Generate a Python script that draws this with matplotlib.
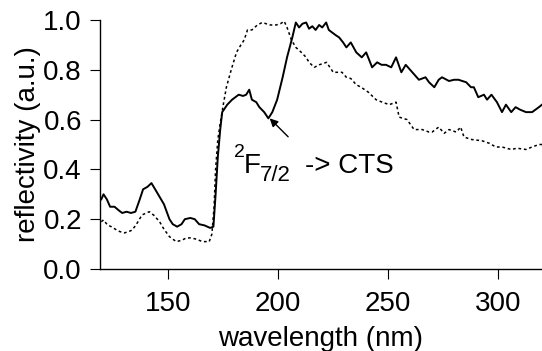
import matplotlib
matplotlib.use("Agg")
import matplotlib.pyplot as plt

plt.rcParams['font.family'] = ['Liberation Sans', 'DejaVu Sans']

# Solid curve
wl_solid = [119.5, 120.5, 122, 123.5, 125.5, 127.5, 129, 131, 133, 135, 137, 138.5, 140.5,
            142.3, 144, 146, 148, 150.5, 152, 154, 156, 157.5, 160, 162, 164, 166.5, 169,
            170.5, 171.5, 172.5, 173.6, 174.5, 176.8, 179, 182, 184, 185.4, 186.8, 188, 190,
            191.4, 193.6, 195.5, 197.3, 199.5, 202, 204, 206.4, 208, 209.5, 211, 212.7, 214,
            215.5, 217, 218.6, 220, 221.8, 223, 224.5, 226, 227.7, 229.5, 231, 233, 235.5,
            238, 240, 242.7, 245, 247, 249, 251.4, 253.6, 256, 258, 261, 264, 267, 268.6,
            271, 273, 274.5, 277.7, 280, 282, 285.5, 287.7, 289, 291, 293.6, 295, 297, 299.5,
            301.8, 303.6, 306, 308, 310, 312.7, 315.5, 318.6, 320]
refl_solid = [0.28, 0.30, 0.28, 0.25, 0.25, 0.235, 0.225, 0.23, 0.225, 0.23, 0.28, 0.32, 0.33,
              0.345, 0.32, 0.29, 0.26, 0.20, 0.18, 0.17, 0.18, 0.20, 0.205, 0.20, 0.18, 0.175,
              0.165, 0.17, 0.30, 0.45, 0.56, 0.63, 0.66, 0.68, 0.70, 0.695, 0.70, 0.72, 0.68,
              0.67, 0.65, 0.63, 0.605, 0.63, 0.68, 0.77, 0.85, 0.93, 0.99, 0.97, 0.985, 0.99,
              0.965, 0.975, 0.96, 0.98, 0.97, 0.99, 0.96, 0.95, 0.94, 0.93, 0.91, 0.89, 0.91,
              0.87, 0.85, 0.87, 0.81, 0.83, 0.82, 0.82, 0.81, 0.85, 0.79, 0.82, 0.79, 0.76,
              0.77, 0.75, 0.73, 0.76, 0.77, 0.755, 0.76, 0.76, 0.75, 0.73, 0.73, 0.69, 0.70,
              0.68, 0.70, 0.67, 0.63, 0.66, 0.63, 0.65, 0.64, 0.63, 0.63, 0.65, 0.66]

# Dotted curve
wl_dotted = [119.5, 120.5, 122.3, 124, 126.4, 128, 130, 132, 133.6, 135.5, 138, 140, 141.4,
             143.5, 146, 148, 150.5, 152, 153.6, 156, 158, 160, 162.7, 165.5, 168.6, 169.8,
             170.8, 171.5, 172.5, 173.5, 175, 176.4, 178.6, 181, 183, 184.5, 186, 188, 190.5,
             192.7, 194.5, 196, 199, 201, 202.7, 204, 206, 208, 210.5, 212.7, 214, 216.4,
             218.6, 222, 225, 229, 231, 233, 235.5, 237.7, 241, 244.5, 247.3, 250.5, 253.6,
             255, 258.6, 261.8, 265.5, 268.6, 270, 273, 275.5, 277.7, 281, 283, 284.5, 288,
             292.7, 296, 299, 301.8, 306, 308.6, 312.7, 315.5, 318.6, 320]
refl_dotted = [0.19, 0.197, 0.177, 0.17, 0.157, 0.15, 0.145, 0.15, 0.157, 0.18, 0.217, 0.225,
               0.23, 0.215, 0.19, 0.16, 0.13, 0.12, 0.11, 0.115, 0.124, 0.125, 0.12, 0.11, 0.11,
               0.14, 0.25, 0.40, 0.52, 0.58, 0.66, 0.73, 0.80, 0.87, 0.90, 0.92, 0.96, 0.96,
               0.98, 0.99, 0.985, 0.98, 0.98, 0.985, 0.995, 0.97, 0.92, 0.89, 0.87, 0.85, 0.83,
               0.81, 0.82, 0.83, 0.79, 0.79, 0.77, 0.765, 0.74, 0.73, 0.71, 0.68, 0.67, 0.66,
               0.67, 0.61, 0.60, 0.56, 0.56, 0.55, 0.55, 0.57, 0.545, 0.56, 0.55, 0.57, 0.53,
               0.52, 0.515, 0.505, 0.49, 0.49, 0.48, 0.485, 0.48, 0.49, 0.50, 0.50]

x_ticks = [150, 200, 250, 300]
y_ticks = [0.0, 0.2, 0.4, 0.6, 0.8, 1.0]
y_ticklabels = ['0.0', '0.2', '0.4', '0.6', '0.8', '1.0']

fig = plt.figure(figsize=(5.42, 3.51), dpi=100)
ax = fig.add_axes([100/542, 82/351, 442/542, 249/351])

ax.plot(wl_dotted, refl_dotted, color='black', lw=1.1, linestyle=(0, (1.8, 1.8)))
ax.plot(wl_solid, refl_solid, color='black', lw=1.4)

ax.set_xlim(118.9, 320)
ax.set_ylim(0, 1.0)
ax.set_xticks(x_ticks)
ax.set_yticks(y_ticks)
ax.set_yticklabels(y_ticklabels)

for s in ['top', 'right']:
    ax.spines[s].set_visible(False)
for s in ['left', 'bottom']:
    ax.spines[s].set_linewidth(1.0)

ax.tick_params(axis='both', direction='out', length=7, width=0.8, labelsize=20)
ax.tick_params(axis='y', pad=6)
ax.tick_params(axis='x', pad=9)

ax.set_xlabel('wavelength (nm)', fontsize=20, labelpad=6)
ax.set_ylabel('reflectivity (a.u.)', fontsize=20, labelpad=2)

# annotation text pieces
anchor = (184.3, 0.385)
ax.annotate('F', xy=anchor, xytext=(0, 0), textcoords='offset pixels',
            fontsize=20, va='baseline', ha='left')
ax.annotate('2', xy=anchor, xytext=(-10, 16), textcoords='offset pixels',
            fontsize=14, va='baseline', ha='left')
ax.annotate('7/2', xy=anchor, xytext=(16, -8), textcoords='offset pixels',
            fontsize=16, va='baseline', ha='left')
ax.annotate('-> CTS', xy=anchor, xytext=(61, 0), textcoords='offset pixels',
            fontsize=20, va='baseline', ha='left')

ax.annotate('', xy=(196.1, 0.605), xytext=(204.5, 0.531),
            arrowprops=dict(arrowstyle='-|>', lw=1.0, color='black',
                            mutation_scale=12, shrinkA=0, shrinkB=0))

fig.savefig('out.png', dpi=100)
